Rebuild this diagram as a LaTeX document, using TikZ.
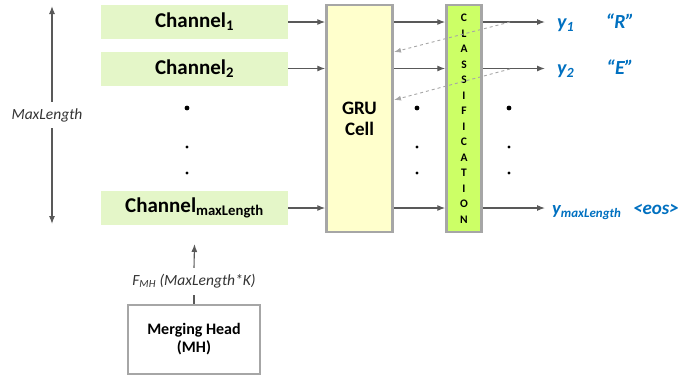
\documentclass[tikz,border=0pt]{standalone}
\usepackage{fontspec}
\setmainfont{Carlito}
\usetikzlibrary{arrows.meta}
\definecolor{chan}{HTML}{E4F6C8}
\definecolor{gru}{HTML}{FFFFCC}
\definecolor{cls}{HTML}{CCFF66}
\definecolor{bordergray}{HTML}{A6A6A6}
\definecolor{arrowgray}{HTML}{595959}
\definecolor{dashgray}{HTML}{A6A6A6}
\definecolor{outblue}{HTML}{0070C0}
\begin{document}
\begin{tikzpicture}[x=1pt,y=-1pt,
  chanbox/.style={fill=chan, draw=none, minimum width=187pt, minimum height=34pt, inner sep=0pt,
     font=\fontsize{21}{25}\selectfont\bfseries},
  bigbox/.style={draw=bordergray, line width=2.5pt, inner sep=0pt},
  arr/.style={draw=arrowgray, line width=1.1pt, -{Latex[length=8pt,width=6pt]}},
  darr/.style={draw=dashgray, line width=0.9pt, dashed, -{Latex[length=7pt,width=5pt]}},
  outlbl/.style={text=outblue, font=\fontsize{20}{24}\selectfont\bfseries\itshape, inner sep=0pt},
  ital/.style={font=\fontsize{15.5}{18}\selectfont\itshape, text=black!80},
]
\useasboundingbox (0,0) rectangle (699,383);

% channels
\node[chanbox] (c1) at (194.5,22) {Channel\textsubscript{1}};
\node[chanbox] (c2) at (194.5,68.5) {Channel\textsubscript{2}};
\node[chanbox] (cm) at (194.5,208) {Channel\textsubscript{maxLength}};

% GRU and classification
\node[bigbox, fill=gru, minimum width=66pt, minimum height=227pt,
      font=\fontsize{19}{21}\selectfont\bfseries, align=center] (gru) at (359.5,118.5) {GRU\\Cell};
\node[bigbox, fill=cls, minimum width=35pt, minimum height=227pt,
      font=\fontsize{11.5}{15.5}\selectfont\bfseries, align=center] (cls) at (464,118.5)
      {C\\L\\A\\S\\S\\I\\F\\I\\C\\A\\T\\I\\O\\N};

% channel -> GRU
\draw[arr] (c1.east) -- (c1.east -| gru.west);
\draw[arr] (c2.east) -- (c2.east -| gru.west);
\draw[arr] (cm.east) -- (cm.east -| gru.west);
% GRU -> classification
\draw[arr] (gru.east |- c1) -- (cls.west |- c1);
\draw[arr] (gru.east |- c2) -- (cls.west |- c2);
\draw[arr] (gru.east |- cm) -- (cls.west |- cm);

% outputs
\coordinate (o1) at (545,22);
\coordinate (o2) at (545,68.5);
\coordinate (om) at (545,208);
\draw[arr] (cls.east |- c1) -- (o1);
\draw[arr] (cls.east |- c2) -- (o2);
\draw[arr] (cls.east |- cm) -- (om);

\node[outlbl, anchor=base west] (y1) at (557,28) {y\textsubscript{1}};
\node[outlbl, anchor=base west] (y2) at (557,74.5) {y\textsubscript{2}};
\node[outlbl, anchor=base west, font=\fontsize{18.5}{22}\selectfont\bfseries\itshape] (ym) at (552,214.5) {y\textsubscript{maxLength}};
\node[outlbl, anchor=base] (r) at (620,28) {“R”};
\node[outlbl, anchor=base] (e) at (620,74.5) {“E”};
\node[outlbl, anchor=base, font=\fontsize{19}{22}\selectfont\bfseries\itshape] (eos) at (656,214.5) {<eos>};

% feedback dashed arrows
\coordinate (f1s) at (510,22);
\coordinate (f1e) at (394,52);
\coordinate (f2s) at (510,69);
\coordinate (f2e) at (394,100);
\draw[darr] (f1s) -- (f1e);
\draw[darr] (f2s) -- (f2e);

% dots
\foreach \x in {187,417,509}{
  \fill (\x,108) circle (2.4pt);
  \fill (\x,147) circle (1.6pt);
  \fill (\x,173) circle (1.6pt);
}

% MaxLength arrow
\node[ital, minimum height=26pt, inner sep=0pt] (ml) at (47,115) {MaxLength};
\coordinate (mlt) at (52,6);
\coordinate (mlb) at (52,224);
\draw[arr] (mlt |- ml.north) -- (mlt);
\draw[arr] (mlb |- ml.south) -- (mlb);

% Merging head
\node[bigbox, fill=white, minimum width=132pt, minimum height=69pt,
      font=\fontsize{16}{18}\selectfont\bfseries, align=center] (mh) at (194,339.5)
      {Merging Head\\(MH)};
\node[ital, minimum height=27pt, inner sep=0pt] (fmh) at (194,281.5) {F\textsubscript{MH} (MaxLength*K)};
\draw[draw=arrowgray, line width=1.1pt] (mh.north) -- (fmh.south);
\draw[arr] (fmh.north) -- (cm.south |- 0,244);
\end{tikzpicture}
\end{document}
